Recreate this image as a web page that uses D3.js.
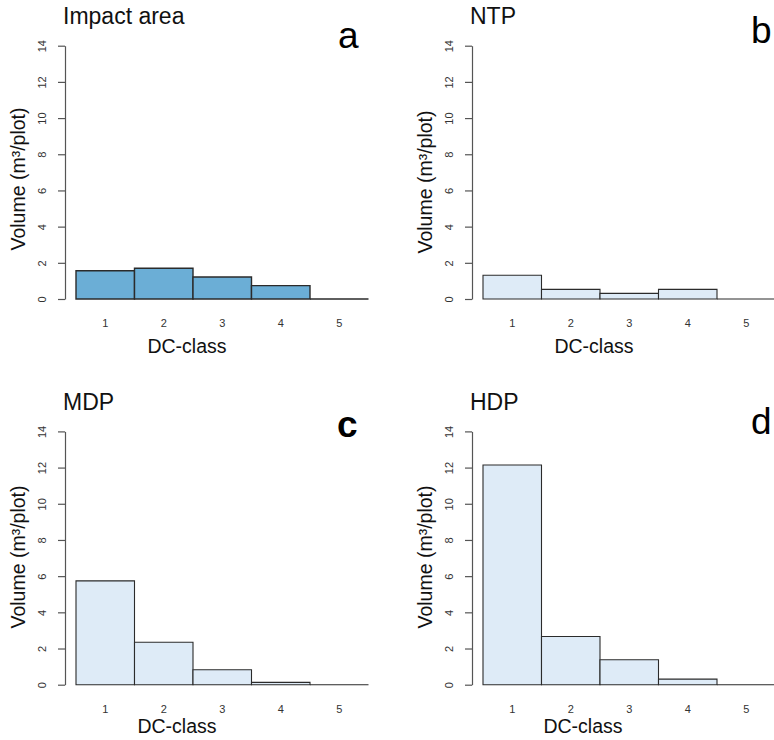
<!doctype html>
<html>
<head>
<script type='text/javascript' src='https://d3js.org/d3.v7.min.js'></script>
<style>
body { margin: 0; background: #fff; }
text { font-family: "Liberation Sans", Arial, sans-serif; }
</style>
</head>
<body>
<script>
var width = 774, height = 740;

// data
var classes = ['1', '2', '3', '4', '5'];
var impactVol = [1.56, 1.70, 1.22, 0.74, 0];
var ntpVol = [1.31, 0.53, 0.31, 0.53, 0];
var mdpVol = [5.74, 2.35, 0.83, 0.13, 0];
var hdpVol = [12.14, 2.66, 1.38, 0.31, 0];
var yTicks = [0, 2, 4, 6, 8, 10, 12, 14];

var darkFill = '#6baed6', lightFill = '#deebf7';

// panel setup (offsets + label placement)
var panels = [
 {values: impactVol, title: 'Impact area', letter: 'a', bold: false, fill: darkFill, dx: 0, dy: 0,
  letterX: 338, letterY: 48, yLabY: 179, xLabX: 187},
 {values: ntpVol, title: 'NTP', letter: 'b', bold: false, fill: lightFill, dx: 407, dy: 0,
  letterX: 751, letterY: 43, yLabY: 182, xLabX: 594},
 {values: mdpVol, title: 'MDP', letter: 'c', bold: true, fill: lightFill, dx: 0, dy: 385.7,
  letterX: 337, letterY: 437, yLabY: 557, xLabX: 177},
 {values: hdpVol, title: 'HDP', letter: 'd', bold: false, fill: lightFill, dx: 407, dy: 385.7,
  letterX: 751, letterY: 434, yLabY: 557, xLabX: 583}
];

var svg = d3.select('body').append('svg').attr('width', width).attr('height', height);

// shared scales (in panel coords)
var axisX = 65;
var x = d3.scaleBand().domain(classes).range([76, 76 + 5 * 58.5]).paddingInner(0).paddingOuter(0);
var y = d3.scaleLinear().domain([0, 14]).range([299, 45.7]);

panels.forEach(function(p) {
 var g = svg.append('g').attr('transform', 'translate(' + p.dx + ',' + p.dy + ')');

 // bars as closed paths so an empty class still shows its bottom edge
 g.selectAll('path.bar')
  .data(p.values)
  .join('path')
  .attr('class', 'bar')
  .attr('d', function(d, i) {
   var x0 = x(classes[i]), x1 = x0 + x.bandwidth();
   return 'M' + x0 + ',' + y(0) + 'V' + y(d) + 'H' + x1 + 'V' + y(0) + 'Z';
  })
  .attr('fill', p.fill)
  .attr('stroke', '#2b2b2b')
  .attr('stroke-width', p.fill == darkFill ? 1.4 : 1.1);

 // y axis
 var ya = g.append('g')
  .attr('transform', 'translate(' + axisX + ',0)')
  .call(d3.axisLeft(y).tickValues(yTicks).tickSize(7).tickSizeOuter(0));
 ya.select('.domain').attr('stroke', '#555').attr('stroke-width', 1.2);
 ya.selectAll('.tick line').attr('stroke', '#555').attr('stroke-width', 1.2);
 ya.selectAll('.tick text')
  .attr('transform', 'rotate(-90)')
  .attr('x', 0).attr('y', -23.3).attr('dy', '0.35em')
  .attr('text-anchor', 'middle')
  .attr('font-size', 11)
  .attr('fill', '#333')
  .style('font-family', '"Liberation Sans", Arial, sans-serif');

 // x labels (barplot names)
 g.selectAll('text.xlab')
  .data(classes)
  .join('text')
  .attr('class', 'xlab')
  .attr('x', function(d) { return x(d) + x.bandwidth() / 2; })
  .attr('y', y(0) + 28)
  .attr('text-anchor', 'middle')
  .attr('font-size', 11)
  .attr('fill', '#333')
  .text(function(d) { return d; });

 // title
 g.append('text')
  .attr('x', 63).attr('y', 24)
  .attr('font-size', 23)
  .attr('fill', '#111')
  .text(p.title);

 // axis titles
 svg.append('text')
  .attr('transform', 'translate(' + (p.dx + 25.3) + ',' + p.yLabY + ') rotate(-90)')
  .attr('text-anchor', 'middle')
  .attr('font-size', 19.5)
  .attr('fill', '#111')
  .text('Volume (m³/plot)');
 svg.append('text')
  .attr('x', p.xLabX).attr('y', Math.min(p.dy + 353, 733))
  .attr('text-anchor', 'middle')
  .attr('font-size', 19.5)
  .attr('fill', '#111')
  .text('DC-class');

 // panel letter
 svg.append('text')
  .attr('x', p.letterX).attr('y', p.letterY)
  .attr('font-size', 37)
  .attr('font-weight', p.bold ? 'bold' : 'normal')
  .attr('fill', '#000')
  .text(p.letter);
});
console.log('ready..');
</script>
</body>
</html>
